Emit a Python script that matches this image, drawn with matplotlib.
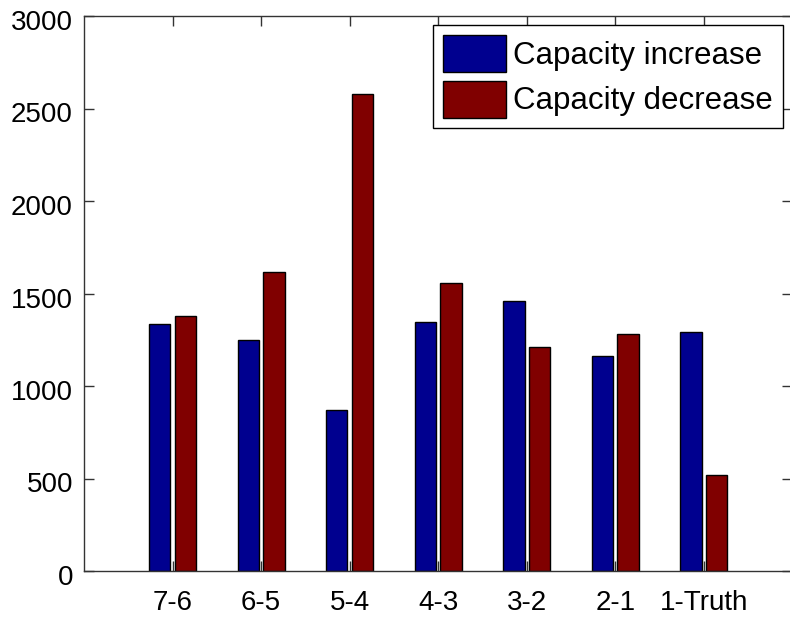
import matplotlib
matplotlib.use("Agg")
import matplotlib.pyplot as plt
import matplotlib.transforms as mtransforms
import numpy as np

categories = ["7-6", "6-5", "5-4", "4-3", "3-2", "2-1", "1-Truth"]
capacity_increase = [1335, 1249, 870, 1346, 1458, 1160, 1294]
capacity_decrease = [1378, 1616, 2577, 1555, 1212, 1283, 519]
yticks = [0, 500, 1000, 1500, 2000, 2500, 3000]

plt.rcParams['font.family'] = ['Liberation Sans', 'DejaVu Sans']

fig = plt.figure(figsize=(7.9, 6.22), dpi=100)
ax = fig.add_axes([84/790, 1-571/622, 1.0 - 84/790 + 0.003, (571-16)/622])

x = np.arange(1, len(categories) + 1)
w = 0.24
off = 0.145
ax.bar(x - off, capacity_increase, width=w, color='#00008F', edgecolor='black',
       linewidth=1.0, label='Capacity increase')
ax.bar(x + off, capacity_decrease, width=w, color='#800000', edgecolor='black',
       linewidth=1.0, label='Capacity decrease')

ax.set_xlim(0, 8)
ax.set_ylim(0, 3000)
ax.set_xticks(x)
ax.set_xticklabels(categories)
ax.set_yticks(yticks)
ax.tick_params(axis='both', direction='in', length=7, width=1, labelsize=20,
               top=True, right=True, color='#333333')
ax.tick_params(axis='x', pad=13.5)
ax.tick_params(axis='y', pad=8)
ax.spines['right'].set_visible(False)
for s in ['left', 'bottom', 'top']:
    ax.spines[s].set_color('#333333')
    ax.spines[s].set_linewidth(1.0)

shift = mtransforms.ScaledTranslation(0, -4/100, fig.dpi_scale_trans)
for lab in ax.get_yticklabels():
    lab.set_transform(lab.get_transform() + shift)

leg = ax.legend(loc='upper left', bbox_to_anchor=(433/790, 1-25/622),
                bbox_transform=fig.transFigure, fontsize=22.5, frameon=True,
                fancybox=False, edgecolor='black', framealpha=1,
                borderaxespad=0, borderpad=0.33, handlelength=2.0,
                handleheight=1.45, handletextpad=0.22, labelspacing=0.26)
leg.get_frame().set_linewidth(1.0)

fig.savefig('out.png', dpi=100)
